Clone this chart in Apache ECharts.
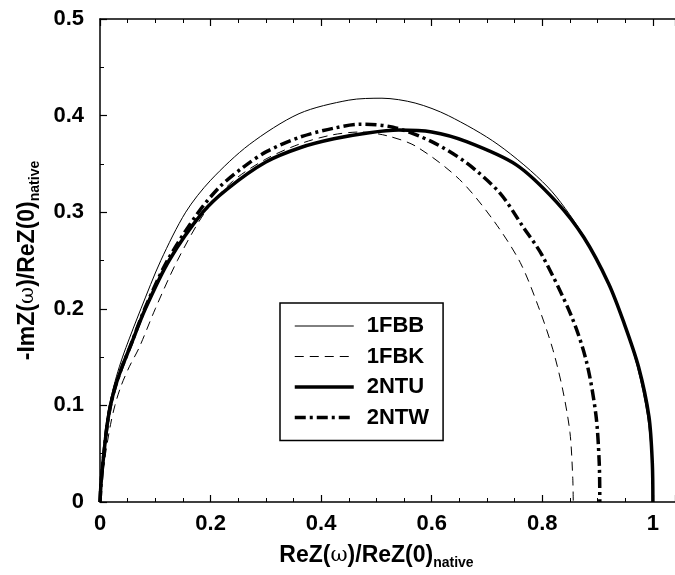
<!DOCTYPE html>
<html>
<head>
<meta charset="utf-8">
<script src="https://cdn.jsdelivr.net/npm/echarts@6/dist/echarts.min.js"></script>
<style>
  html, body { margin: 0; padding: 0; background: #fff; }
  #chart { width: 675px; height: 575px; }
</style>
</head>
<body>
<div id="chart"></div>
<script>
// curves, [ReZ, -ImZ] pairs
const fbb = [[0, 0], [0.0015, 0.02], [0.006, 0.05], [0.011, 0.08], [0.017, 0.1], [0.025, 0.12], [0.035, 0.14],
  [0.047, 0.16], [0.074, 0.2], [0.11, 0.25], [0.155, 0.3], [0.2, 0.333], [0.27, 0.37], [0.36, 0.402],
  [0.45, 0.416], [0.51, 0.418], [0.57, 0.413], [0.63, 0.4], [0.72, 0.37], [0.81, 0.326], [0.87, 0.28],
  [0.915, 0.233], [0.944, 0.192], [0.972, 0.14], [0.99, 0.09], [0.998, 0.045], [1.0, 0]]
const fbk = [[0, 0], [0.003, 0.02], [0.01, 0.05], [0.019, 0.08], [0.027, 0.1], [0.038, 0.12], [0.053, 0.14],
  [0.071, 0.16], [0.1, 0.2], [0.14, 0.25], [0.19, 0.3], [0.24, 0.332], [0.3, 0.355], [0.363, 0.371],
  [0.42, 0.38], [0.47, 0.383], [0.52, 0.379], [0.572, 0.368], [0.65, 0.334], [0.711, 0.292], [0.76, 0.248],
  [0.795, 0.199], [0.819, 0.158], [0.837, 0.116], [0.85, 0.072], [0.855, 0.026], [0.856, 0]]
const ntu = [[0, 0], [0.002, 0.02], [0.007, 0.05], [0.013, 0.08], [0.019, 0.1], [0.028, 0.12], [0.04, 0.14],
  [0.054, 0.16], [0.082, 0.2], [0.125, 0.25], [0.186, 0.3], [0.23, 0.324], [0.3, 0.352], [0.363, 0.367],
  [0.423, 0.376], [0.484, 0.382], [0.54, 0.385], [0.6, 0.383], [0.663, 0.373], [0.753, 0.349], [0.825, 0.311],
  [0.875, 0.274], [0.92, 0.226], [0.948, 0.185], [0.974, 0.14], [0.993, 0.088], [0.999, 0.04], [1.0, 0]]
const ntw = [[0, 0], [0.002, 0.02], [0.007, 0.05], [0.013, 0.08], [0.019, 0.1], [0.028, 0.12], [0.04, 0.14],
  [0.054, 0.16], [0.081, 0.2], [0.122, 0.25], [0.178, 0.3], [0.218, 0.327], [0.26, 0.347], [0.302, 0.363],
  [0.363, 0.378], [0.423, 0.387], [0.47, 0.391], [0.53, 0.388], [0.6, 0.373], [0.663, 0.351], [0.723, 0.32],
  [0.765, 0.285], [0.8, 0.255], [0.853, 0.192], [0.88, 0.145], [0.897, 0.09], [0.903, 0.04], [0.904, 0]]

const seriesNames = ['1FBB', '1FBK', '2NTU', '2NTW']
const lineWidths = [1, 1, 3.5, 3.5]
const lineTypes = ['solid', [9, 6], 'solid', [11, 4, 3, 4]]
const xTicks = [0, 0.2, 0.4, 0.6, 0.8, 1]
const yTicks = [0, 0.1, 0.2, 0.3, 0.4, 0.5]

const font = 'Liberation Sans, Arial, sans-serif'

const chart = echarts.init(document.getElementById('chart'))

function xAxisBase(pos) {
  return {
    type: 'value',
    position: pos,
    min: 0,
    max: 1.04,
    interval: 0.2,
    splitLine: { show: false },
    axisLine: { show: true, lineStyle: { color: '#000', width: 1.5 } },
    axisTick: { show: true, inside: true, length: 7, lineStyle: { color: '#000', width: 1.2 } },
    minorTick: { show: true, splitNumber: 4, length: 4, lineStyle: { color: '#000', width: 1 } },
    axisLabel: { show: false }
  }
}

// title rich styles, subscript pushed down with top padding
const titleRich = {
  m: { fontFamily: font, fontWeight: 'bold', fontSize: 23, color: '#000' },
  w: { fontFamily: 'DejaVu Serif', fontSize: 21, color: '#000' },
  s: { fontFamily: font, fontWeight: 'bold', fontSize: 14, color: '#000', padding: [14, 0, 0, 0] }
}

const xMain = xAxisBase('bottom')
xMain.axisLabel = {
  show: true,
  margin: 11,
  color: '#000',
  fontFamily: font,
  fontWeight: 'bold',
  fontSize: 22,
  showMaxLabel: false,
  formatter: v => (xTicks.some(t => Math.abs(t - v) < 1e-6) ? String(+v.toFixed(1)) : '')
}
xMain.name = '{m|ReZ(}{w|ω}{m|)/ReZ(0)}{s|native}'
xMain.nameLocation = 'middle'
xMain.nameGap = 40
xMain.nameTextStyle = { rich: titleRich, padding: [0, 22, 0, 0] }
const xTop = xAxisBase('top')

const allData = [fbb, fbk, ntu, ntw]
const series = seriesNames.map((name, i) => ({
  name: name,
  type: 'line',
  data: allData[i],
  symbol: 'none',
  smooth: 0.3,
  color: '#000',
  lineStyle: { color: '#000', width: lineWidths[i], type: lineTypes[i] }
}))

chart.setOption({
  animation: false,
  backgroundColor: '#fff',
  grid: { left: 100, right: 0, top: 19, bottom: 73 },
  legend: {
    // legend would clamp widths to 2 otherwise
    data: seriesNames.map((name, i) => ({
      name: name,
      lineStyle: { color: '#000', width: lineWidths[i], type: lineTypes[i] }
    })),
    orient: 'vertical',
    left: 280,
    top: 303,
    itemWidth: 59,
    itemHeight: 20,
    itemGap: 8.5,
    padding: [12, 14, 12, 13],
    borderColor: '#000',
    borderWidth: 1.5,
    backgroundColor: '#fff',
    itemStyle: { opacity: 0 },
    textStyle: { fontFamily: font, fontWeight: 'bold', fontSize: 22, color: '#000', padding: [0, 0, 0, 8] }
  },
  xAxis: [xMain, xTop],
  yAxis: {
    type: 'value',
    min: 0,
    max: 0.5,
    interval: 0.1,
    splitLine: { show: false },
    axisLine: { show: true, lineStyle: { color: '#000', width: 1.5 } },
    axisTick: { show: true, inside: true, length: 7, lineStyle: { color: '#000', width: 1.2 } },
    minorTick: { show: true, splitNumber: 2, length: 4, lineStyle: { color: '#000', width: 1 } },
    axisLabel: {
      margin: 16,
      color: '#000',
      fontFamily: font,
      fontWeight: 'bold',
      fontSize: 22,
      formatter: v => (yTicks.some(t => Math.abs(t - v) < 1e-6) ? String(+v.toFixed(1)) : '')
    },
    name: '{m|-ImZ(}{w|ω}{m|)/ReZ(0)}{s|native}',
    nameLocation: 'middle',
    nameRotate: 90,
    nameGap: 58,
    nameTextStyle: { rich: titleRich }
  },
  series: series
})
</script>
</body>
</html>
